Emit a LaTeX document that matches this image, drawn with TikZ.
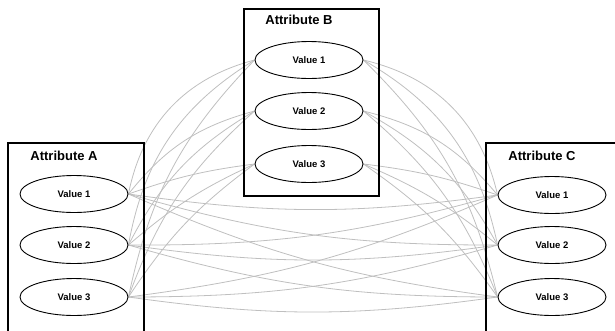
\documentclass[tikz,border=0pt]{standalone}
\usepackage{fontspec}
\setmainfont{Liberation Sans}
\usetikzlibrary{shapes.geometric,backgrounds}
\begin{document}
\begin{tikzpicture}[x=1pt,y=-1pt,
  val/.style={ellipse,draw,line width=0.9pt,minimum width=108pt,minimum height=37pt,inner sep=0pt,fill=white,font=\fontsize{9.5}{11}\selectfont\bfseries},
  attr/.style={font=\fontsize{13}{15}\selectfont\bfseries},
  frame/.style={draw,line width=2pt,inner sep=0pt,anchor=north west},
  link/.style={draw=black!25,line width=0.8pt}]
\useasboundingbox (0,0) rectangle (615,330);
\clip (0,0) rectangle (615,330);
% boxes
\node[frame,minimum width=136pt,minimum height=200pt] (boxA) at (7,142) {};
\node[frame,minimum width=135pt,minimum height=187pt] (boxB) at (243,8) {};
\node[frame,minimum width=140pt,minimum height=200pt] (boxC) at (485,142) {};
% titles
\node[attr] (tA) at (64,156) {Attribute A};
\node[attr] (tB) at (299,20) {Attribute B};
\node[attr] (tC) at (542,156) {Attribute C};
% values
\node[val] (a1) at (74,194) {Value 1};
\node[val] (a2) at (74,245) {Value 2};
\node[val] (a3) at (74,297) {Value 3};
\node[val] (b1) at (309,60) {Value 1};
\node[val] (b2) at (309,111) {Value 2};
\node[val] (b3) at (309,164) {Value 3};
\node[val] (c1) at (552,195) {Value 1};
\node[val] (c2) at (552,245) {Value 2};
\node[val] (c3) at (552,297) {Value 3};
% links
\begin{scope}[on background layer]
\foreach \i/\j/\b in {1/1/32,1/2/24,1/3/16,2/1/18,2/2/16,2/3/14,3/1/6,3/2/8,3/3/10}{
  \draw[link] (b\i.east) to[bend left=\b] (c\j.west);
  \draw[link] (a\j.east) to[bend left=\b] (b\i.west);
}
\foreach \i in {1,2,3}{
  \foreach \j in {1,2,3}{
    \draw[link] (a\i.east) to[bend right=8] (c\j.west);
  }
}
\end{scope}
\end{tikzpicture}
\end{document}
